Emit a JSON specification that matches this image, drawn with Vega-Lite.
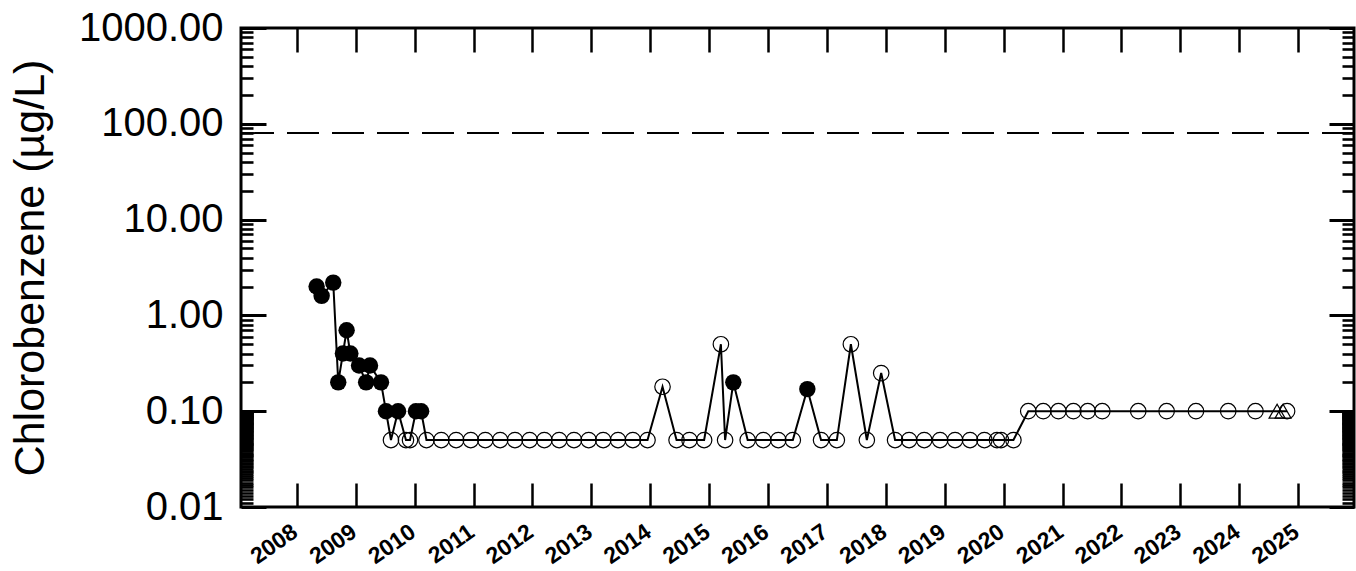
{
  "$schema": "https://vega.github.io/schema/vega-lite/v6.json",
  "autosize": {"type": "none"},
  "padding": {"left": 241, "top": 28, "right": 2, "bottom": 64},
  "width": 1113,
  "height": 479,
  "background": "white",
  "config": {
    "view": {"stroke": "black", "strokeWidth": 3},
    "axis": {"grid": false, "domain": false, "tickColor": "black", "labelColor": "black", "titleColor": "black", "labelFont": "Liberation Sans", "titleFont": "Liberation Sans", "labelOverlap": false, "labelFlush": false}
  },
  "datasets": {
    "limit": [{"limit": 80}],
    "samples": [
      {"date": "2008-05-03", "value": 2.0, "type": "D"},
      {"date": "2008-06-03", "value": 1.6, "type": "D"},
      {"date": "2008-08-14", "value": 2.2, "type": "D"},
      {"date": "2008-09-14", "value": 0.2, "type": "D"},
      {"date": "2008-10-13", "value": 0.4, "type": "D"},
      {"date": "2008-11-05", "value": 0.7, "type": "D"},
      {"date": "2008-11-28", "value": 0.4, "type": "D"},
      {"date": "2009-01-21", "value": 0.3, "type": "D"},
      {"date": "2009-03-06", "value": 0.2, "type": "D"},
      {"date": "2009-03-30", "value": 0.3, "type": "D"},
      {"date": "2009-06-06", "value": 0.2, "type": "D"},
      {"date": "2009-07-07", "value": 0.1, "type": "D"},
      {"date": "2009-08-07", "value": 0.05, "type": "ND"},
      {"date": "2009-09-20", "value": 0.1, "type": "D"},
      {"date": "2009-11-08", "value": 0.05, "type": "ND"},
      {"date": "2009-12-03", "value": 0.05, "type": "ND"},
      {"date": "2010-01-09", "value": 0.1, "type": "D"},
      {"date": "2010-02-10", "value": 0.1, "type": "D"},
      {"date": "2010-03-15", "value": 0.05, "type": "ND"},
      {"date": "2010-06-15", "value": 0.05, "type": "ND"},
      {"date": "2010-09-15", "value": 0.05, "type": "ND"},
      {"date": "2010-12-15", "value": 0.05, "type": "ND"},
      {"date": "2011-03-15", "value": 0.05, "type": "ND"},
      {"date": "2011-06-15", "value": 0.05, "type": "ND"},
      {"date": "2011-09-15", "value": 0.05, "type": "ND"},
      {"date": "2011-12-15", "value": 0.05, "type": "ND"},
      {"date": "2012-03-15", "value": 0.05, "type": "ND"},
      {"date": "2012-06-15", "value": 0.05, "type": "ND"},
      {"date": "2012-09-15", "value": 0.05, "type": "ND"},
      {"date": "2012-12-15", "value": 0.05, "type": "ND"},
      {"date": "2013-03-15", "value": 0.05, "type": "ND"},
      {"date": "2013-06-15", "value": 0.05, "type": "ND"},
      {"date": "2013-09-15", "value": 0.05, "type": "ND"},
      {"date": "2013-12-15", "value": 0.05, "type": "ND"},
      {"date": "2014-03-18", "value": 0.18, "type": "ND"},
      {"date": "2014-06-13", "value": 0.05, "type": "ND"},
      {"date": "2014-09-01", "value": 0.05, "type": "ND"},
      {"date": "2014-12-01", "value": 0.05, "type": "ND"},
      {"date": "2015-03-15", "value": 0.5, "type": "ND"},
      {"date": "2015-04-10", "value": 0.05, "type": "ND"},
      {"date": "2015-05-31", "value": 0.2, "type": "D"},
      {"date": "2015-08-28", "value": 0.05, "type": "ND"},
      {"date": "2015-12-03", "value": 0.05, "type": "ND"},
      {"date": "2016-03-05", "value": 0.05, "type": "ND"},
      {"date": "2016-06-03", "value": 0.05, "type": "ND"},
      {"date": "2016-09-01", "value": 0.17, "type": "D"},
      {"date": "2016-11-25", "value": 0.05, "type": "ND"},
      {"date": "2017-03-03", "value": 0.05, "type": "ND"},
      {"date": "2017-05-29", "value": 0.5, "type": "ND"},
      {"date": "2017-09-05", "value": 0.05, "type": "ND"},
      {"date": "2017-12-03", "value": 0.25, "type": "ND"},
      {"date": "2018-02-27", "value": 0.05, "type": "ND"},
      {"date": "2018-05-25", "value": 0.05, "type": "ND"},
      {"date": "2018-08-27", "value": 0.05, "type": "ND"},
      {"date": "2018-12-03", "value": 0.05, "type": "ND"},
      {"date": "2019-03-06", "value": 0.05, "type": "ND"},
      {"date": "2019-06-07", "value": 0.05, "type": "ND"},
      {"date": "2019-09-04", "value": 0.05, "type": "ND"},
      {"date": "2019-11-21", "value": 0.05, "type": "ND"},
      {"date": "2019-12-16", "value": 0.05, "type": "ND"},
      {"date": "2020-03-02", "value": 0.05, "type": "ND"},
      {"date": "2020-06-02", "value": 0.1, "type": "ND"},
      {"date": "2020-09-03", "value": 0.1, "type": "ND"},
      {"date": "2020-12-06", "value": 0.1, "type": "ND"},
      {"date": "2021-03-09", "value": 0.1, "type": "ND"},
      {"date": "2021-06-06", "value": 0.1, "type": "ND"},
      {"date": "2021-09-04", "value": 0.1, "type": "ND"},
      {"date": "2022-04-15", "value": 0.1, "type": "ND"},
      {"date": "2022-10-08", "value": 0.1, "type": "ND"},
      {"date": "2023-04-08", "value": 0.1, "type": "ND"},
      {"date": "2023-10-25", "value": 0.1, "type": "ND"},
      {"date": "2024-04-11", "value": 0.1, "type": "ND"},
      {"date": "2024-08-23", "value": 0.1, "type": "T"},
      {"date": "2024-09-29", "value": 0.1, "type": "T"},
      {"date": "2024-10-24", "value": 0.1, "type": "ND"}
    ]
  },
  "resolve": {"axis": {"x": "independent", "y": "independent"}},
  "layer": [
    {
      "data": {"name": "limit"},
      "mark": {"type": "rule", "color": "black", "strokeWidth": 2, "strokeDash": [32, 13]},
      "encoding": {
        "y": {
          "field": "limit", "type": "quantitative",
          "scale": {"type": "log", "domain": [0.01, 1000], "nice": false},
          "axis": {
            "orient": "left", "ticks": false, "values": [0.01, 0.1, 1, 10, 100, 1000], "format": ".2f",
            "labelFontSize": 40, "labelPadding": 18, "labelBaseline": "middle",
            "title": "Chlorobenzene (µg/L)", "titleFontSize": 43, "titleFontWeight": "normal", "titlePadding": 26
          }
        }
      }
    },
    {
      "data": {"name": "samples"},
      "mark": {"type": "line", "color": "black", "strokeWidth": 2},
      "encoding": {
        "x": {
          "field": "date", "type": "temporal",
          "scale": {"domain": [{"year": 2007, "month": 1, "date": 20}, {"year": 2025, "month": 12, "date": 13}], "nice": false},
          "axis": {
            "orient": "bottom", "ticks": false, "tickCount": {"interval": "year", "step": 1}, "format": "%Y",
            "labelAngle": -35, "labelAlign": "right", "labelBaseline": "alphabetic", "labelPadding": 28, "labelOffset": 2,
            "labelFontSize": 23, "labelFontWeight": "bold", "labelLimit": 300, "title": null
          }
        },
        "y": {
          "field": "value", "type": "quantitative",
          "axis": {"orient": "left", "labels": false, "values": [0.01, 0.1, 1, 10, 100, 1000], "tickSize": -25, "tickWidth": 3, "title": null}
        }
      }
    },
    {
      "data": {"name": "samples"},
      "transform": [{"filter": "datum.type === 'ND'"}],
      "mark": {"type": "point", "shape": "circle", "filled": false, "stroke": "black", "strokeWidth": 1.2, "size": 240, "opacity": 1},
      "encoding": {
        "x": {
          "field": "date", "type": "temporal",
          "axis": {"orient": "bottom", "labels": false, "tickCount": {"interval": "year", "step": 1}, "tickSize": -24, "tickWidth": 2.5, "title": null}
        },
        "y": {
          "field": "value", "type": "quantitative",
          "axis": {"orient": "left", "labels": false, "tickSize": -12, "tickWidth": 2.6, "title": null,
            "values": [0.011,0.012,0.013,0.014,0.015,0.016,0.017,0.018,0.019,0.02,0.021,0.022,0.023,0.024,0.025,0.026,0.027,0.028,0.029,0.03,0.031,0.032,0.033,0.034,0.035,0.036,0.037,0.038,0.039,0.04,0.041,0.042,0.043,0.044,0.045,0.046,0.047,0.048,0.049,0.05,0.051,0.052,0.053,0.054,0.055,0.056,0.057,0.058,0.059,0.06,0.061,0.062,0.063,0.064,0.065,0.066,0.067,0.068,0.069,0.07,0.071,0.072,0.073,0.074,0.075,0.076,0.077,0.078,0.079,0.08,0.081,0.082,0.083,0.084,0.085,0.086,0.087,0.088,0.089,0.09,0.091,0.092,0.093,0.094,0.095,0.096,0.097,0.098,0.099,0.2,0.3,0.4,0.5,0.6,0.7,0.8,0.9,2,3,4,5,6,7,8,9,20,30,40,50,60,70,80,90,200,300,400,500,600,700,800,900]}
        }
      }
    },
    {
      "data": {"name": "samples"},
      "transform": [{"filter": "datum.type === 'D'"}],
      "mark": {"type": "point", "shape": "circle", "filled": true, "color": "black", "size": 270, "opacity": 1},
      "encoding": {
        "x": {
          "field": "date", "type": "temporal",
          "axis": {"orient": "top", "labels": false, "tickCount": {"interval": "year", "step": 1}, "tickSize": -24, "tickWidth": 2.5, "title": null}
        },
        "y": {
          "field": "value", "type": "quantitative",
          "axis": {"orient": "right", "labels": false, "values": [0.01, 0.1, 1, 10, 100, 1000], "tickSize": -25, "tickWidth": 3, "title": null}
        }
      }
    },
    {
      "data": {"name": "samples"},
      "transform": [{"filter": "datum.type === 'T'"}],
      "mark": {"type": "point", "shape": "triangle-up", "filled": false, "stroke": "black", "strokeWidth": 1.2, "size": 256, "opacity": 1},
      "encoding": {
        "x": {"field": "date", "type": "temporal", "axis": null},
        "y": {
          "field": "value", "type": "quantitative",
          "axis": {"orient": "right", "labels": false, "tickSize": -12, "tickWidth": 2.6, "title": null,
            "values": [0.011,0.012,0.013,0.014,0.015,0.016,0.017,0.018,0.019,0.02,0.021,0.022,0.023,0.024,0.025,0.026,0.027,0.028,0.029,0.03,0.031,0.032,0.033,0.034,0.035,0.036,0.037,0.038,0.039,0.04,0.041,0.042,0.043,0.044,0.045,0.046,0.047,0.048,0.049,0.05,0.051,0.052,0.053,0.054,0.055,0.056,0.057,0.058,0.059,0.06,0.061,0.062,0.063,0.064,0.065,0.066,0.067,0.068,0.069,0.07,0.071,0.072,0.073,0.074,0.075,0.076,0.077,0.078,0.079,0.08,0.081,0.082,0.083,0.084,0.085,0.086,0.087,0.088,0.089,0.09,0.091,0.092,0.093,0.094,0.095,0.096,0.097,0.098,0.099,0.2,0.3,0.4,0.5,0.6,0.7,0.8,0.9,2,3,4,5,6,7,8,9,20,30,40,50,60,70,80,90,200,300,400,500,600,700,800,900]}
        }
      }
    }
  ]
}
